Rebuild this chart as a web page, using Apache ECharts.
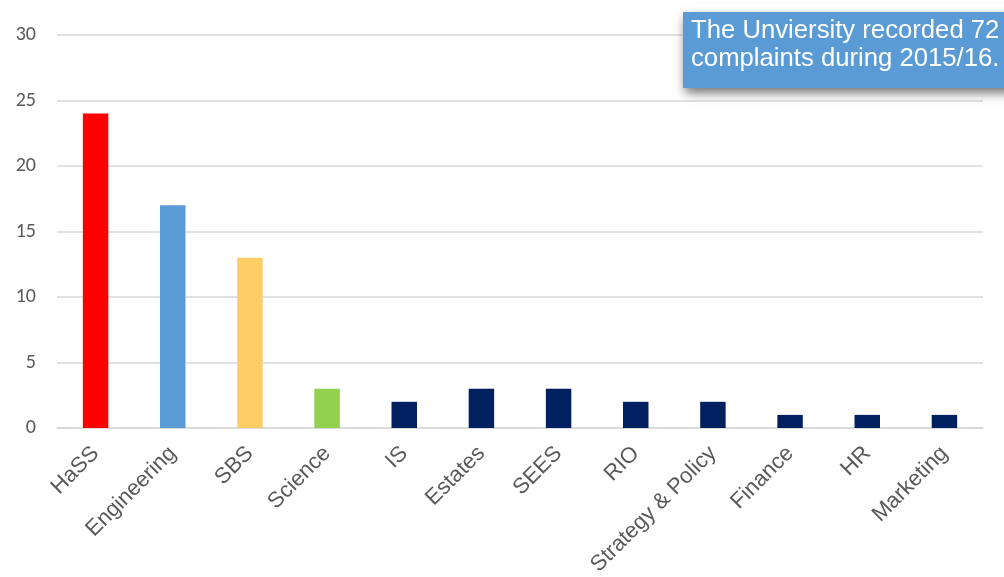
<!DOCTYPE html>
<html>
<head>
<meta charset="utf-8">
<script src="https://cdn.jsdelivr.net/npm/echarts@6/dist/echarts.min.js"></script>
<style>html,body{margin:0;padding:0;background:#fff}#c{width:1004px;height:577px}</style>
</head>
<body>
<div id="c"></div>
<script>
const categories = ['HaSS','Engineering','SBS','Science','IS','Estates','SEES','RIO','Strategy & Policy','Finance','HR','Marketing'];
const complaints = [24,17,13,3,2,3,3,2,2,1,1,1];
const barColors = ['#ff0000','#5b9bd5','#ffcd66','#92d050','#002060','#002060','#002060','#002060','#002060','#002060','#002060','#002060'];
const yTicks = {min:0, max:30, interval:5};
const noteLines = ['The Unviersity recorded 72','complaints during 2015/16.'];

const chart = echarts.init(document.getElementById('c'));
chart.setOption({
  animation:false,
  grid:{left:57,right:21,top:35,bottom:149,containLabel:false,outerBoundsMode:'none'},
  xAxis:{
    type:'category',
    data:categories,
    axisLine:{lineStyle:{color:'#d9d9d9',width:1.5}},
    axisTick:{show:false},
    axisLabel:{rotate:45,interval:0,fontFamily:'Liberation Sans, Arial',fontSize:22,color:'#595959',margin:22}
  },
  yAxis:{
    type:'value',min:yTicks.min,max:yTicks.max,interval:yTicks.interval,
    axisLine:{show:false},axisTick:{show:false},
    splitLine:{lineStyle:{color:'#d9d9d9',width:1.5}},
    axisLabel:{fontFamily:'Carlito, Liberation Sans, Arial',fontSize:20,color:'#595959',margin:21}
  },
  series:[{
    type:'bar',
    data:complaints.map((v,i)=>({value:v,itemStyle:{color:barColors[i]}})),
    barWidth:'33%'
  }],
  graphic:[
    {type:'rect',left:683,top:12,shape:{width:340,height:76},
     style:{fill:'#5b9bd5',shadowBlur:10,shadowOffsetX:2,shadowOffsetY:5,shadowColor:'rgba(0,0,0,0.55)'},z:10},
    {type:'text',left:691,top:17,z:11,
     style:{text:noteLines.join('\n'),fill:'#ffffff',font:'25.7px "Liberation Sans", Arial',lineHeight:28}}
  ]
});
</script>
</body>
</html>
